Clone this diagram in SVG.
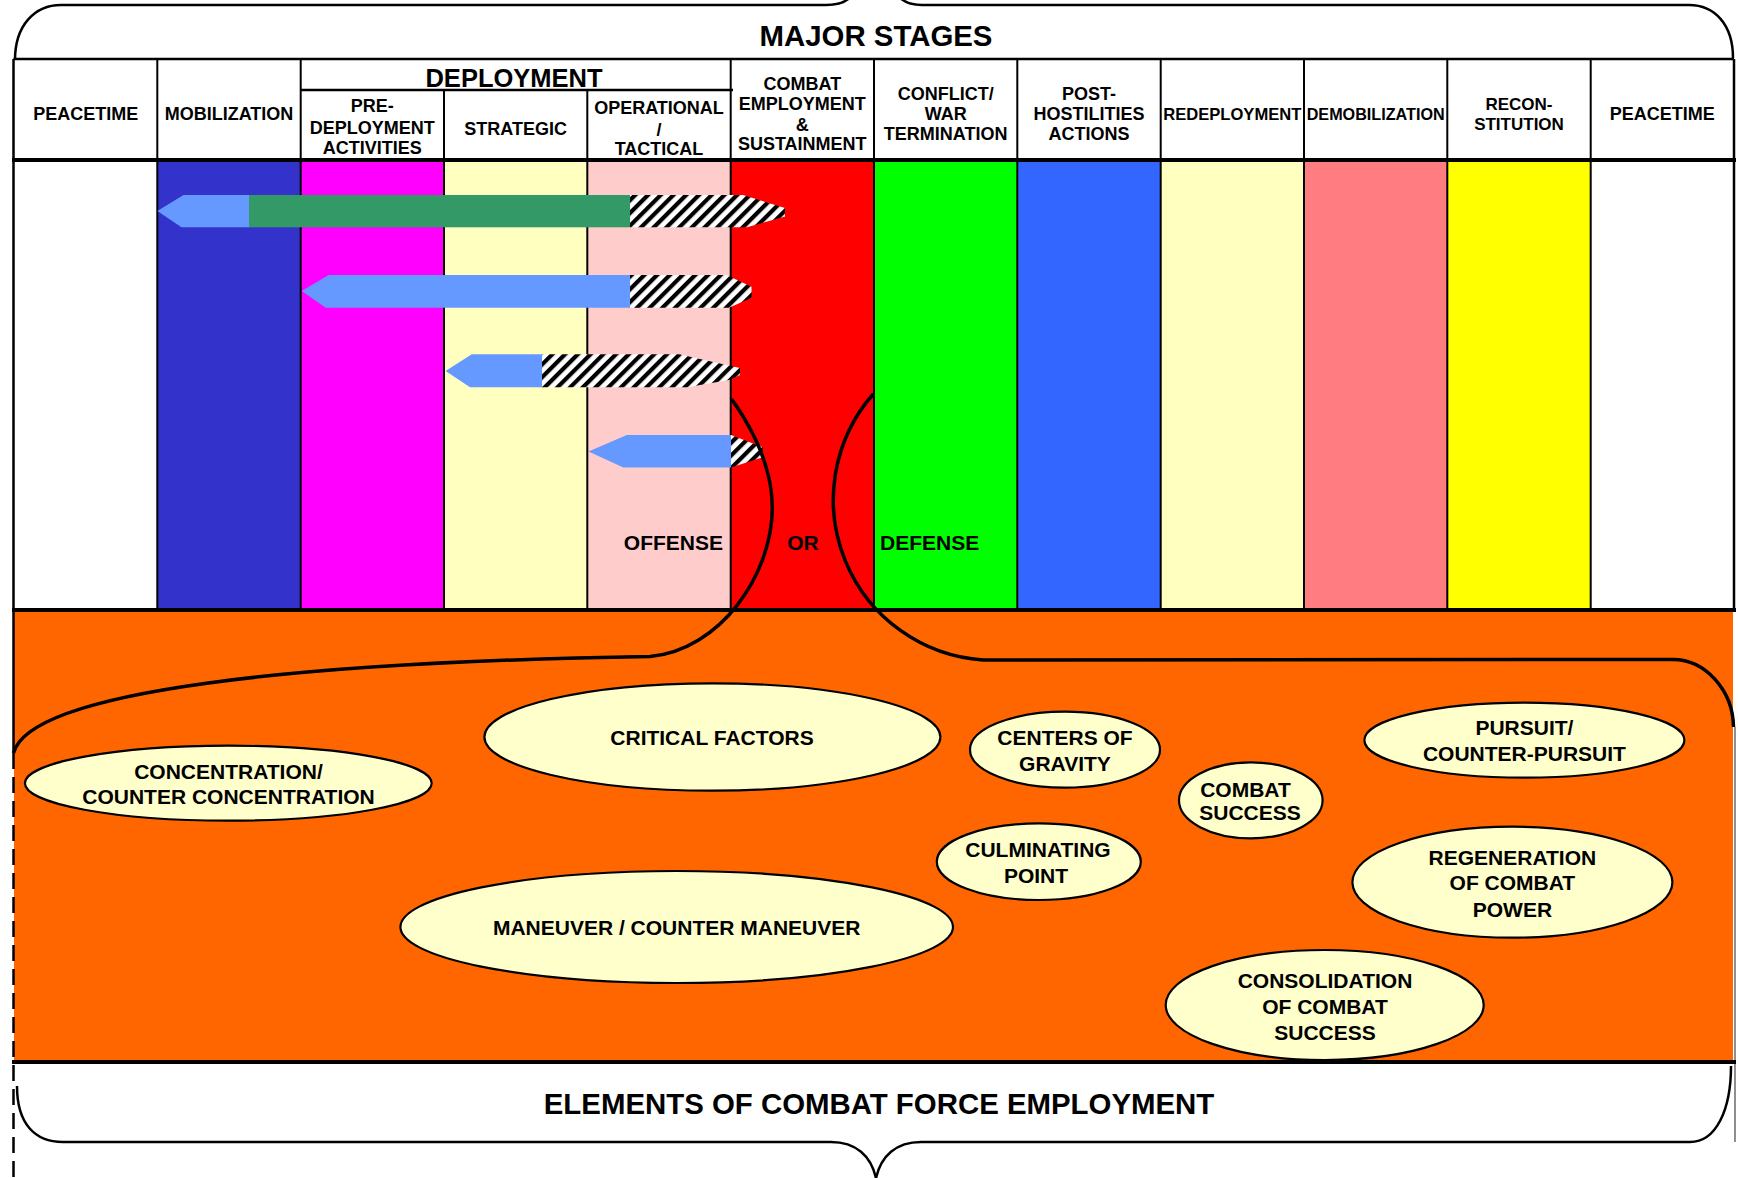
<svg xmlns="http://www.w3.org/2000/svg" width="1738" height="1178" viewBox="0 0 1738 1178">
<defs>
<style>
.t{font-family:"Liberation Sans",Arial,Helvetica,sans-serif;font-weight:bold;fill:#000;text-anchor:middle}
.h{font-size:18px}
.e{font-size:21px}
.el{fill:#FFFFCC;stroke:#000;stroke-width:2.2}
.vl{stroke:#000;stroke-width:2}
.hl{stroke:#000;stroke-width:2.5}
.thick{stroke:#000;stroke-width:4}
.brace{fill:none;stroke:#000;stroke-width:2.5}
.arc{fill:none;stroke:#000;stroke-width:3.5}
.blue{fill:#6699FF}
.hatch{fill:url(#hatch)}
</style>
<pattern id="hatch" width="9" height="9" patternUnits="userSpaceOnUse" patternTransform="rotate(45)">
<rect width="9" height="9" fill="#fff"/>
<rect width="4.2" height="9" fill="#000"/>
</pattern>
</defs>
<rect width="1738" height="1178" fill="#fff"/>

<!-- background bands -->
<g id="bands">
<rect x="14" y="160" width="143.3" height="450" fill="#fff"/>
<rect x="157.3" y="160" width="143.4" height="450" fill="#3333CC"/>
<rect x="300.7" y="160" width="143.3" height="450" fill="#FF00FF"/>
<rect x="444" y="160" width="143.3" height="450" fill="#FFFFC0"/>
<rect x="587.3" y="160" width="143.4" height="450" fill="#FFCCCC"/>
<rect x="730.7" y="160" width="143.3" height="450" fill="#FF0000"/>
<rect x="874" y="160" width="143.3" height="450" fill="#00FF00"/>
<rect x="1017.3" y="160" width="143.4" height="450" fill="#3366FF"/>
<rect x="1160.7" y="160" width="143.3" height="450" fill="#FFFFC0"/>
<rect x="1304" y="160" width="143.3" height="450" fill="#FF7C80"/>
<rect x="1447.3" y="160" width="143.4" height="450" fill="#FFFF00"/>
<rect x="1590.7" y="160" width="143.3" height="450" fill="#fff"/>
<rect x="14" y="610" width="1719" height="452" fill="#FF6600"/>
</g>

<!-- grid lines -->
<g id="grid">
<line class="hl" x1="13.5" y1="59" x2="1734" y2="59"/>
<line class="hl" x1="300.7" y1="90" x2="733" y2="90"/>
<g class="vl">
<line x1="157.3" y1="59" x2="157.3" y2="610"/>
<line x1="300.7" y1="59" x2="300.7" y2="610"/>
<line x1="444" y1="90" x2="444" y2="610"/>
<line x1="587.3" y1="90" x2="587.3" y2="610"/>
<line x1="730.7" y1="59" x2="730.7" y2="610"/>
<line x1="874" y1="59" x2="874" y2="610"/>
<line x1="1017.3" y1="59" x2="1017.3" y2="610"/>
<line x1="1160.7" y1="59" x2="1160.7" y2="610"/>
<line x1="1304" y1="59" x2="1304" y2="610"/>
<line x1="1447.3" y1="59" x2="1447.3" y2="610"/>
<line x1="1590.7" y1="59" x2="1590.7" y2="610"/>
</g>
<line x1="13.5" y1="59" x2="13.5" y2="753" stroke="#000" stroke-width="2.5"/>
<line x1="13.5" y1="753" x2="13.5" y2="1178" stroke="#000" stroke-width="2.5" stroke-dasharray="16 8"/>
<line x1="1734" y1="59" x2="1734" y2="610" stroke="#000" stroke-width="2.5"/>
<line x1="1735" y1="727" x2="1735" y2="1142" stroke="#444" stroke-width="1.2"/>
<line class="thick" x1="12" y1="160" x2="1736" y2="160"/>
<line class="thick" x1="12" y1="610" x2="1736" y2="610"/>
<line class="thick" x1="12" y1="1062" x2="1736" y2="1062"/>
</g>

<!-- braces and titles -->
<g id="major-stages">
<path class="brace" d="M15 60 C15 25 35 5 61 5 L826 5 C840 5 850 0 854 -8"/>
<path class="brace" d="M895 -8 C900 0 908 5 922 5 L1689 5 C1715 5 1733 25 1733 58"/>
<text class="t" x="876" y="45.5" font-size="29.4">MAJOR STAGES</text>
</g>
<g id="elements-title">
<path class="brace" d="M17 1086 C17 1124 35 1142 63 1142 L831 1142 C856 1142 871 1156 876 1178"/>
<path class="brace" d="M876 1178 C881 1156 896 1142 921 1142 L1690 1142 C1716 1142 1731 1110 1731 1066"/>
<text class="t" x="879" y="1113.5" font-size="29.4">ELEMENTS OF COMBAT FORCE EMPLOYMENT</text>
</g>

<!-- stage headers -->
<g id="stage-peacetime-1"><text class="t h" x="85.7" y="119.5">PEACETIME</text></g>
<g id="stage-mobilization"><text class="t h" x="229" y="119.5">MOBILIZATION</text></g>
<g id="stage-deployment"><text class="t" x="514" y="86.5" font-size="25.5">DEPLOYMENT</text></g>
<g id="stage-predeployment"><text class="t h" x="372.3" y="112"><tspan x="372.3">PRE-</tspan><tspan x="372.3" y="133.5">DEPLOYMENT</tspan><tspan x="372.3" y="154">ACTIVITIES</tspan></text></g>
<g id="stage-strategic"><text class="t h" x="515.7" y="135">STRATEGIC</text></g>
<g id="stage-operational"><text class="t h" x="659" y="114"><tspan x="659">OPERATIONAL</tspan><tspan x="659" y="136">/</tspan><tspan x="659" y="154.5">TACTICAL</tspan></text></g>
<g id="stage-combat"><text class="t h" x="802.3" y="89.8"><tspan x="802.3">COMBAT</tspan><tspan x="802.3" y="109.8">EMPLOYMENT</tspan><tspan x="802.3" y="130.5">&amp;</tspan><tspan x="802.3" y="149.8">SUSTAINMENT</tspan></text></g>
<g id="stage-conflict"><text class="t h" x="945.7" y="100"><tspan x="945.7">CONFLICT/</tspan><tspan x="945.7" y="120">WAR</tspan><tspan x="945.7" y="139.8">TERMINATION</tspan></text></g>
<g id="stage-post"><text class="t h" x="1089" y="100"><tspan x="1089">POST-</tspan><tspan x="1089" y="120">HOSTILITIES</tspan><tspan x="1089" y="139.8">ACTIONS</tspan></text></g>
<g id="stage-redeployment"><text class="t" x="1232.3" y="120" font-size="16.5" textLength="138" lengthAdjust="spacingAndGlyphs">REDEPLOYMENT</text></g>
<g id="stage-demobilization"><text class="t" x="1375.7" y="120" font-size="16.5" textLength="138" lengthAdjust="spacingAndGlyphs">DEMOBILIZATION</text></g>
<g id="stage-reconstitution"><text class="t" x="1519" y="109.8" font-size="17"><tspan x="1519">RECON-</tspan><tspan x="1519" y="129.8">STITUTION</tspan></text></g>
<g id="stage-peacetime-2"><text class="t h" x="1662.3" y="120">PEACETIME</text></g>

<!-- arrows -->
<g id="arrow-1">
<polygon class="blue" points="157.4,211 183.5,195 250,195 250,227.3 181.5,227.3"/>
<rect x="249" y="195" width="381.5" height="32.3" fill="#339966"/>
<polygon class="hatch" points="630,195 743,195 785,208 785,216.5 747,227.3 630,227.3"/>
</g>
<g id="arrow-2">
<polygon class="blue" points="301.7,291 328.6,275 631,275 631,307.7 325.7,307.7"/>
<polygon class="hatch" points="630,275 726.6,275 751.5,286.7 751.5,297.7 729,307.7 630,307.7"/>
</g>
<g id="arrow-3">
<polygon class="blue" points="445.6,371 471.7,354.3 543,354.3 543,387.3 470,387.3"/>
<polygon class="hatch" points="542,354.3 679,354.3 712,361.7 740,368 740,375 729,380 687,387.3 542,387.3"/>
</g>
<g id="arrow-4">
<polygon class="blue" points="588.5,451.5 626.7,435 731.5,435 731.5,467.5 623.3,467.5"/>
<polygon class="hatch" points="731,435 762.7,447.3 762.7,457.3 731,467.5"/>
</g>

<!-- connectors (offense / defense braces) -->
<g id="connectors">
<path class="arc" d="M731.7 399 C755 432 772 470 772.3 507 C772.5 575 720 650 650 656.5 C300 662 30 690 13.5 753"/>
<path class="arc" d="M873.3 394 A160.4 160.4 0 0 0 983 660 L1673 659.5 C1705 659.5 1733 690 1733.5 727"/>
</g>

<g id="label-offense"><text class="t e" x="723" y="549.5" style="text-anchor:end">OFFENSE</text></g>
<g id="label-or"><text class="t e" x="803" y="549.5">OR</text></g>
<g id="label-defense"><text class="t e" x="880" y="549.5" style="text-anchor:start">DEFENSE</text></g>

<!-- elements -->
<g id="el-concentration">
<ellipse class="el" cx="228.3" cy="783.2" rx="203.4" ry="37.5"/>
<text class="t e" x="228.5" y="779.2"><tspan x="228.5">CONCENTRATION/</tspan><tspan x="228.5" y="804.2">COUNTER CONCENTRATION</tspan></text>
</g>
<g id="el-critical-factors">
<ellipse class="el" cx="712.4" cy="737" rx="228" ry="53.7"/>
<text class="t e" x="712" y="745.2">CRITICAL FACTORS</text>
</g>
<g id="el-maneuver">
<ellipse class="el" cx="676.7" cy="927" rx="276.3" ry="56"/>
<text class="t e" x="676.7" y="934.8">MANEUVER / COUNTER MANEUVER</text>
</g>
<g id="el-centers-of-gravity">
<ellipse class="el" cx="1065" cy="749.7" rx="95" ry="38"/>
<text class="t e" x="1065" y="745.2"><tspan x="1065">CENTERS OF</tspan><tspan x="1065" y="770.8">GRAVITY</tspan></text>
</g>
<g id="el-culminating-point">
<ellipse class="el" cx="1038.8" cy="861.7" rx="102" ry="38.3"/>
<text class="t e" x="1038" y="856.8"><tspan x="1038">CULMINATING</tspan><tspan x="1036" y="882.5">POINT</tspan></text>
</g>
<g id="el-combat-success">
<ellipse class="el" cx="1250.8" cy="800.3" rx="71.8" ry="38"/>
<text class="t e" x="1247" y="796.5"><tspan x="1245.5">COMBAT</tspan><tspan x="1250" y="820.2">SUCCESS</tspan></text>
</g>
<g id="el-pursuit">
<ellipse class="el" cx="1524.4" cy="740.2" rx="160" ry="37.5"/>
<text class="t e" x="1524.4" y="734.8"><tspan x="1524.4">PURSUIT/</tspan><tspan x="1524.4" y="760.8">COUNTER-PURSUIT</tspan></text>
</g>
<g id="el-regeneration">
<ellipse class="el" cx="1512.4" cy="882.2" rx="160" ry="55.5"/>
<text class="t e" x="1512.4" y="865.2"><tspan x="1512.4">REGENERATION</tspan><tspan x="1512.4" y="890.2">OF COMBAT</tspan><tspan x="1512.4" y="916.5">POWER</tspan></text>
</g>
<g id="el-consolidation">
<ellipse class="el" cx="1324.7" cy="1005" rx="159" ry="55"/>
<text class="t e" x="1325" y="988.2"><tspan x="1325">CONSOLIDATION</tspan><tspan x="1325" y="1014.2">OF COMBAT</tspan><tspan x="1325" y="1039.8">SUCCESS</tspan></text>
</g>
</svg>
